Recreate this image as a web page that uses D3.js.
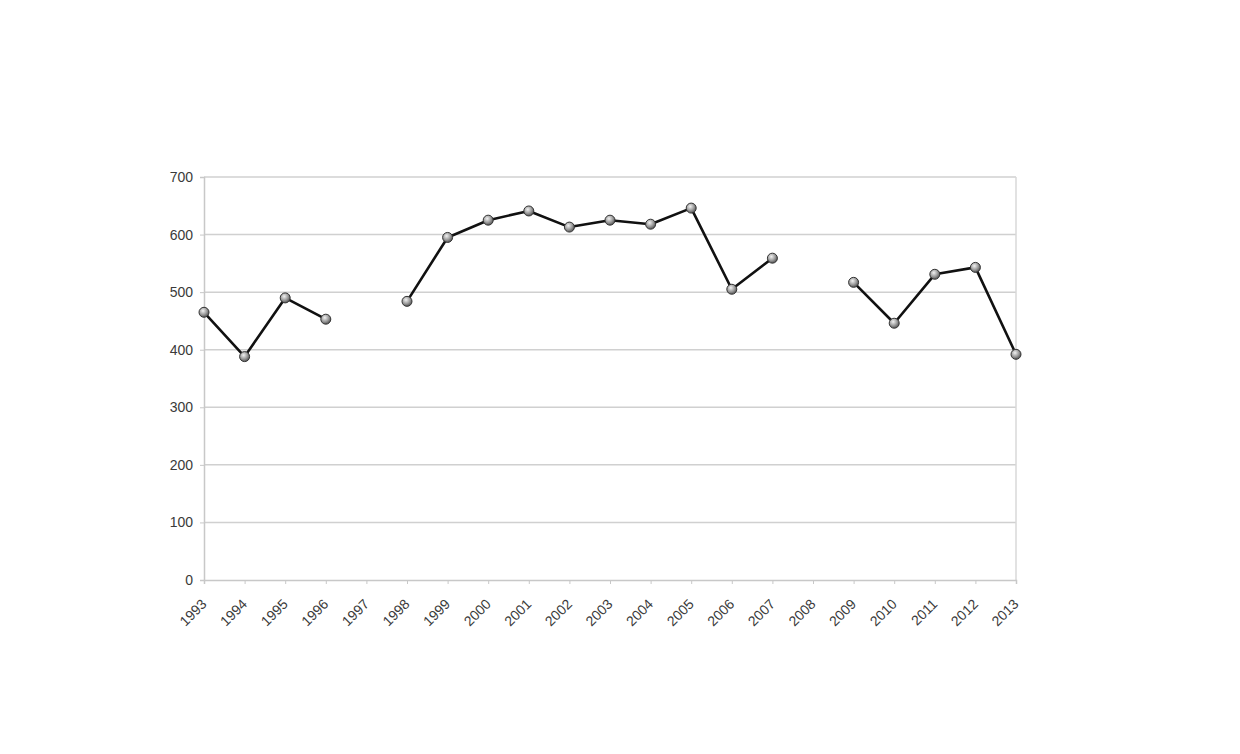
<!DOCTYPE html>
<html><head><meta charset="utf-8">
<script src="https://cdn.jsdelivr.net/npm/d3@7"></script>
<style>body{margin:0;background:#fff;}svg{display:block;font-family:"Liberation Sans",Arial,sans-serif;}</style>
</head><body>
<svg id="chart" width="1240" height="754"></svg>
<script>
const years = ["1993","1994","1995","1996","1997","1998","1999","2000","2001","2002","2003","2004","2005","2006","2007","2008","2009","2010","2011","2012","2013"];
const values = [465,388,490,453,null,484,595,625,641,613,625,618,646,505,559,null,517,446,531,543,392];
const yTicks = [0,100,200,300,400,500,600,700];

(function(){
const svg = d3.select("#chart");
const mLeft = 204, mRight = 1016, mTop = 177, mBottom = 580;
const x = d3.scalePoint().domain(years).range([mLeft, mRight]);
const y = d3.scaleLinear().domain([0,700]).range([mBottom, mTop]);

const defs = svg.append("defs");
const grad = defs.append("radialGradient").attr("id","ball").attr("cx","40%").attr("cy","35%").attr("r","65%");
grad.append("stop").attr("offset","0%").attr("stop-color","#f2f2f2");
grad.append("stop").attr("offset","60%").attr("stop-color","#9a9a9a");
grad.append("stop").attr("offset","100%").attr("stop-color","#555");

svg.append("g").selectAll("line").data(yTicks.filter(d=>d>0)).join("line")
  .attr("x1",mLeft).attr("x2",mRight).attr("y1",d=>y(d)).attr("y2",d=>y(d))
  .attr("stroke","#d0d0d0").attr("stroke-width",1.5);
svg.append("line").attr("x1",mRight).attr("x2",mRight).attr("y1",mTop).attr("y2",mBottom)
  .attr("stroke","#d8d8d8").attr("stroke-width",1.5);

const yAxis = svg.append("g").attr("transform",`translate(${mLeft},0)`)
  .call(d3.axisLeft(y).tickValues(yTicks).tickSize(4).tickPadding(7));
yAxis.select(".domain").attr("stroke","#c8c8c8").attr("stroke-width",1.5);
yAxis.selectAll(".tick line").attr("stroke","#c8c8c8");
yAxis.selectAll("text").attr("fill","#3a3a3a").attr("font-size",14);

const xAxis = svg.append("g").attr("transform",`translate(0,${mBottom})`)
  .call(d3.axisBottom(x).tickSize(4).tickPadding(4));
xAxis.select(".domain").attr("stroke","#c8c8c8").attr("stroke-width",1.5);
xAxis.selectAll(".tick line").attr("stroke","#c8c8c8");
xAxis.selectAll("text").attr("fill","#3a3a3a").attr("font-size",14)
  .attr("text-anchor","end").attr("x",0).attr("y",0).attr("dy",null)
  .attr("transform","translate(3,25) rotate(-45)");

const data = years.map((yr,i)=>({yr, v:values[i]}));
const line = d3.line().defined(d=>d.v!=null).x(d=>x(d.yr)).y(d=>y(d.v));
svg.append("path").datum(data).attr("d",line).attr("fill","none")
  .attr("stroke","#111").attr("stroke-width",2.6).attr("stroke-linejoin","round");

svg.append("g").selectAll("circle").data(data.filter(d=>d.v!=null)).join("circle")
  .attr("cx",d=>x(d.yr)).attr("cy",d=>y(d.v)).attr("r",5)
  .attr("fill","url(#ball)").attr("stroke","#333").attr("stroke-width",1);
})();
</script>
</body></html>
